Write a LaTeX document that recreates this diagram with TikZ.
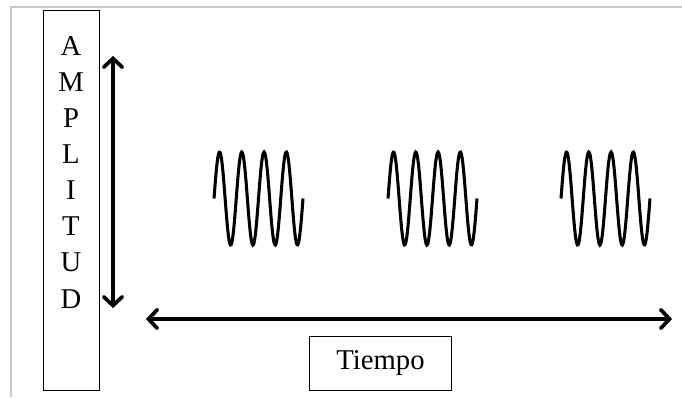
\documentclass[tikz,border=0pt]{standalone}
\usepackage{fontspec}
\setmainfont{Liberation Serif}
\usetikzlibrary{arrows.meta,calc,positioning}

\tikzset{
  thickarrow/.style={line width=2.8pt,{Straight Barb[length=6.5pt,width=14pt,line cap=round]}-{Straight Barb[length=6.5pt,width=14pt,line cap=round]}},
  wave/.style={line width=2.3pt,line cap=butt},
  labelbox/.style={draw,line width=0.7pt,inner sep=0pt}
}

\begin{document}
\begin{tikzpicture}[x=0.75pt,y=0.75pt,yscale=-1,xscale=1]
\useasboundingbox (0,0) rectangle (682,397);

% page frame
\draw [color={rgb,255:red,200;green,200;blue,200}, line width=0.9pt] (11,397) -- (11,7) -- (682,7) ;

% amplitude box
\node (ampbox) [labelbox, minimum width=42pt, minimum height=285pt] at (71,200) {};
\node (amplitud) [anchor=north, inner sep=0pt, align=center, font=\fontsize{21.5}{27.1}\selectfont] at (71,36) {A\\M\\P\\L\\I\\T\\U\\D};

% time box
\node (tiempo) [labelbox, minimum width=107pt, minimum height=40.5pt, font=\fontsize{21.5}{25}\selectfont] at (380.5,363) {Tiempo};

% axes
\coordinate (ytop) at (113,56) ;
\coordinate (ybot) at (113,308) ;
\coordinate (xleft) at (146,319) ;
\coordinate (xright) at (672,319) ;
\draw [thickarrow] (ytop) -- (ybot) ;
\draw [thickarrow] (xleft) -- (xright) ;

% bursts
\draw [wave] plot [domain=0:89, samples=120] ({214+\x}, {198.5-46.5*sin(\x*16.18)}) ;
\draw [wave] plot [domain=0:89, samples=120] ({388+\x}, {198.5-46.5*sin(\x*16.18)}) ;
\draw [wave] plot [domain=0:89, samples=120] ({561+\x}, {198.5-46.5*sin(\x*16.18)}) ;

\end{tikzpicture}
\end{document}
